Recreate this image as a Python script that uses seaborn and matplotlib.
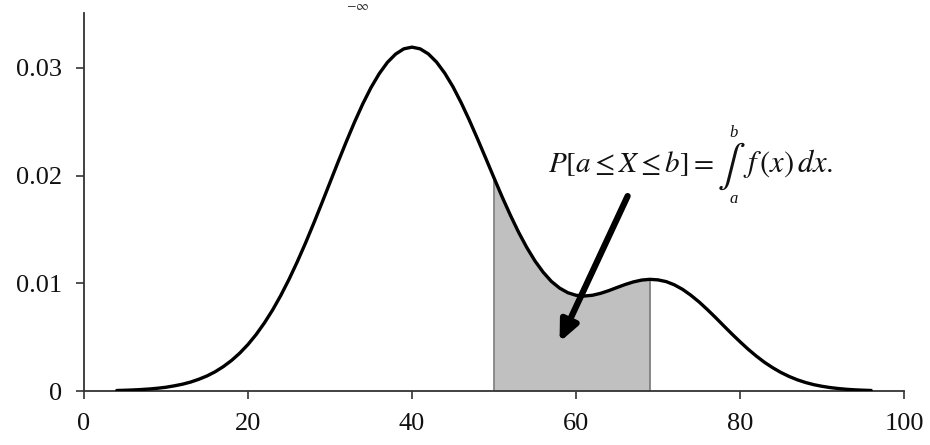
import numpy as np
import pandas as pd
import matplotlib
matplotlib.use("Agg")
import matplotlib.pyplot as plt
import seaborn as sns

# density values
x_vals = list(range(4, 97))
density = [0.000049, 0.00007, 0.000099, 0.00014, 0.00019, 0.00026, 0.00035,
           0.00048, 0.00063, 0.00083, 0.00109, 0.00140, 0.00179, 0.00227,
           0.00284, 0.00352, 0.00432, 0.00525, 0.00632, 0.00752, 0.00887,
           0.01036, 0.01198, 0.01371, 0.01554, 0.01743, 0.01936, 0.02129,
           0.02317, 0.02498, 0.02666, 0.02817, 0.02946, 0.03051, 0.03128,
           0.03177, 0.03193, 0.03177, 0.03130, 0.03054, 0.02951, 0.02825,
           0.02677, 0.02514, 0.02340, 0.02161, 0.01980, 0.01802, 0.01633,
           0.01475, 0.01333, 0.01208, 0.01103, 0.01018, 0.00956, 0.00913,
           0.00889, 0.00882, 0.00889, 0.00907, 0.00932, 0.00961, 0.00989,
           0.01013, 0.01030, 0.01037, 0.01032, 0.01016, 0.00986, 0.00944,
           0.00890, 0.00828, 0.00758, 0.00684, 0.00607, 0.00531, 0.00458,
           0.00388, 0.00324, 0.00266, 0.00216, 0.00172, 0.00135, 0.00104,
           0.00079, 0.00059, 0.00044, 0.00032, 0.00023, 0.00016, 0.00011,
           0.000076, 0.00005]
a_bound, b_bound = 50, 69
x_ticks = [0, 20, 40, 60, 80, 100]
y_ticks = [0, 0.01, 0.02, 0.03]
y_tick_labels = ["0", "0.01", "0.02", "0.03"]
formula_left = r"$P\left[a \leq X \leq b\right] =$"
formula_int = r"$\int$"
formula_right = r"$f\,\left(x\right)\,dx.$"
limit_upper = "b"
limit_lower = "a"
top_text = r"$-\infty$"

df = pd.DataFrame({"x": x_vals, "density": density})

sns.set_theme(style="white")
plt.rcParams["font.family"] = ["Liberation Serif", "DejaVu Serif"]
plt.rcParams["mathtext.fontset"] = "stix"

fig = plt.figure(figsize=(9.3, 4.45), dpi=100)
ax = fig.add_axes([0.0903, 0.1213, 0.8817, 0.8495])

shade = df[(df["x"] >= a_bound) & (df["x"] <= b_bound)]
ax.fill_between(shade["x"], 0, shade["density"], color="#c0c0c0", linewidth=0, zorder=1)
ax.vlines([a_bound, b_bound],
          0, [shade["density"].iloc[0], shade["density"].iloc[-1]],
          color="#7a7a7a", linewidth=1.2, zorder=2)

sns.lineplot(data=df, x="x", y="density", color="black", linewidth=2.4, ax=ax, zorder=3)

ax.set_xlim(0, 100)
ax.set_ylim(0, 0.0351)
ax.set_xticks(x_ticks)
ax.set_xticklabels([str(t) for t in x_ticks])
ax.set_yticks(y_ticks)
ax.set_yticklabels(y_tick_labels)
ax.set_xlabel("")
ax.set_ylabel("")
ax.tick_params(axis="both", direction="out", length=6, width=1.2, color="#333333",
               labelsize=19, labelcolor="#111111", bottom=True, left=True)
ax.tick_params(axis="x", pad=10)
ax.tick_params(axis="y", pad=10)
for side in ["top", "right"]:
    ax.spines[side].set_visible(False)
for side in ["left", "bottom"]:
    ax.spines[side].set_color("#333333")
    ax.spines[side].set_linewidth(1.3)

ax.annotate("", xy=(58.0, 0.00455), xytext=(66.3, 0.0181),
            arrowprops=dict(arrowstyle="-|>,head_length=1.0,head_width=0.45",
                            color="black", lw=4.5, shrinkA=0, shrinkB=0),
            zorder=5)

# formula pieces (positions in pixels converted through the figure)
W, H = 930, 445
def fx(px):
    return px / W
def fy(py):
    return 1 - py / H

txt_color = "#111111"
fig.text(fx(548), fy(172), formula_left, fontsize=21, ha="left", va="baseline",
         color=txt_color)
fig.text(fx(731), fy(166), formula_int, fontsize=30, ha="center", va="center",
         color=txt_color)
fig.text(fx(734), fy(133), limit_upper, fontsize=12, style="italic", ha="center",
         va="center", color=txt_color)
fig.text(fx(734), fy(199), limit_lower, fontsize=12, style="italic", ha="center",
         va="center", color=txt_color)
fig.text(fx(743), fy(172), formula_right, fontsize=22, ha="left", va="baseline",
         color=txt_color)

fig.text(fx(358), 0.999, top_text, fontsize=10, ha="center", va="top",
         color="#333333")

fig.savefig("out.png", dpi=100)
